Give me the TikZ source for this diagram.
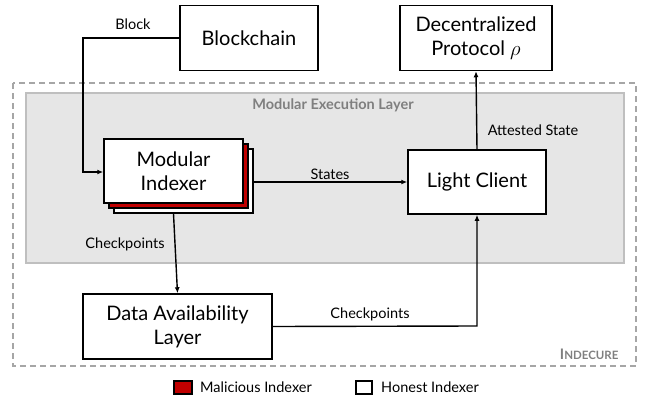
\documentclass[tikz,border=0pt]{standalone}
\usepackage{fontspec}
\setmainfont{Lato}
\usetikzlibrary{arrows.meta}
\definecolor{malred}{HTML}{C00000}
\definecolor{layerfill}{HTML}{E6E6E6}
\definecolor{layerdraw}{HTML}{BFBFBF}
\definecolor{outerdash}{HTML}{A6A6A6}
\definecolor{titlegray}{HTML}{7F7F7F}
\tikzset{
  box/.style={draw=black, line width=1.5pt, fill=white, align=center, font=\fontsize{20}{24}\selectfont, inner sep=0pt},
  conn/.style={line width=1.4pt, -{Latex[length=6pt,width=5pt]}},
  lbl/.style={font=\fontsize{14.5}{17}\selectfont, inner sep=1pt},
}
\begin{document}
\begin{tikzpicture}[x=1pt,y=-1pt]
\useasboundingbox (0,0) rectangle (646,402);
% outer dashed box
\draw[outerdash, line width=1.3pt, dash pattern=on 6pt off 4pt] (13,83) rectangle (636,366);
% execution layer
\draw[layerdraw, fill=layerfill, line width=1.5pt] (26,93) rectangle (624,263);
\node[font=\fontsize{14.5}{17}\selectfont\bfseries, text=titlegray] (mel) at (333,105) {Modular Execution Layer};
\node[font=\fontsize{14.5}{17}\selectfont\bfseries, text=titlegray, anchor=east] (ind) at (622,354) {I\fontsize{11.5}{14}\selectfont NDECURE};
% blockchain and protocol
\node[box, minimum width=138pt, minimum height=65pt] (bc) at (249,38) {Blockchain};
\node[box, minimum width=152pt, minimum height=65pt] (dp) at (476,38) {Decentralized\\Protocol $\rho$};
% indexer stack
\node[box, minimum width=139pt, minimum height=64pt] (ib) at (183.5,181) {};
\node[box, fill=malred, minimum width=139pt, minimum height=64pt] (ir) at (178.5,176) {};
\node[box, minimum width=139pt, minimum height=64pt] (mi) at (173.5,171) {Modular\\Indexer};
% light client
\node[box, minimum width=138pt, minimum height=64pt] (lc) at (477,182) {Light Client};
% DA layer
\node[box, minimum width=189pt, minimum height=65pt] (da) at (177.5,326.5) {Data Availability\\Layer};
% connectors
\coordinate (bcorner) at (83,38);
\coordinate (bdown) at (83,172);
\draw[conn] (bc.west) -- (bcorner) -- (bdown) -- (mi.west |- bdown);
\node[lbl] (lblock) at (133,24) {Block};
\draw[conn] (ib.east |- lc.west) -- (lc.west);
\node[lbl] (lstates) at (330,174) {States};
\draw[conn] (lc.north) -- (dp.south);
\node[lbl] (latt) at (533,130) {Attested State};
\draw[conn] (ib.south -| mi.south) -- (da.north);
\node[lbl] (lcp1) at (125,244) {Checkpoints};
\coordinate (cpcorner) at (477,326);
\draw[conn] (da.east) -- (cpcorner) -- (lc.south);
\node[lbl] (lcp2) at (370,314) {Checkpoints};
% legend
\node[draw=black, line width=1.2pt, fill=malred, minimum width=18pt, minimum height=13pt, inner sep=0pt] (legm) at (183,387.5) {};
\node[lbl, anchor=west] (legmt) at (199,387.5) {Malicious Indexer};
\node[draw=black, line width=1.2pt, fill=white, minimum width=16pt, minimum height=13pt, inner sep=0pt] (legh) at (364,387.5) {};
\node[lbl, anchor=west] (leght) at (380,387.5) {Honest Indexer};
\end{tikzpicture}
\end{document}
